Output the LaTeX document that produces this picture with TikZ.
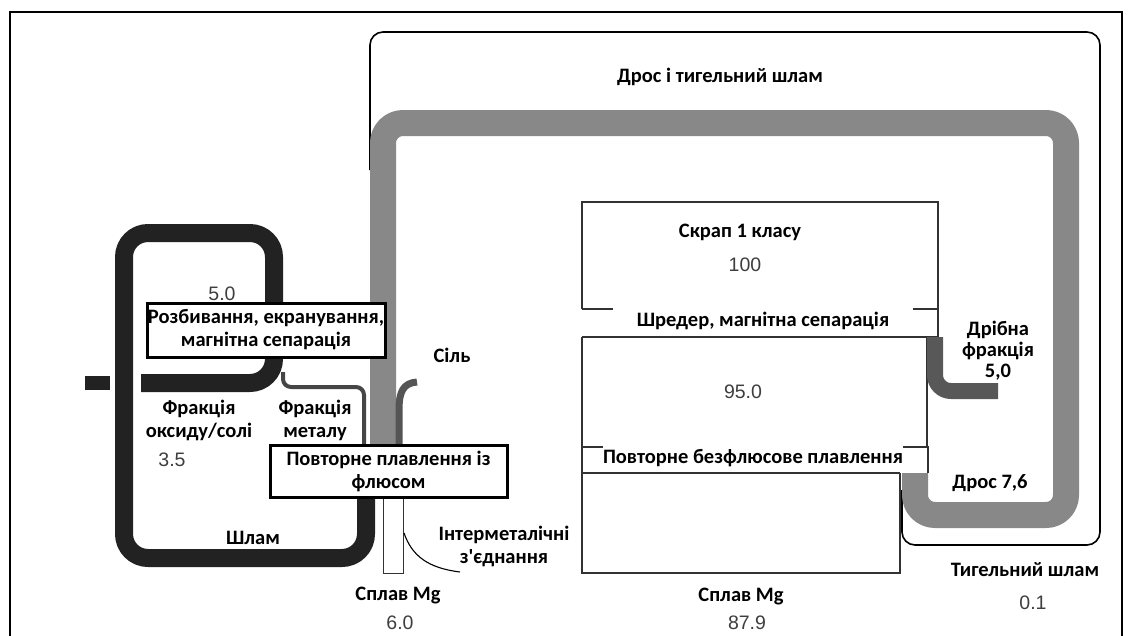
\documentclass[tikz,border=0pt]{standalone}
\usepackage{fontspec}
\newfontfamily\lblfont{Carlito}
\newfontfamily\numfont{Liberation Sans}
\definecolor{numgray}{RGB}{62,62,62}
\definecolor{drossgray}{RGB}{136,136,136}
\definecolor{sludge}{RGB}{34,34,34}
\definecolor{finegray}{RGB}{88,88,88}
\definecolor{metalline}{RGB}{70,70,70}
\definecolor{saltline}{RGB}{85,85,85}
\definecolor{boxline}{RGB}{50,50,50}
\begin{document}
\begin{tikzpicture}[x=1pt,y=-1pt,
  lbl/.style={font=\lblfont\bfseries\fontsize{20.5}{23}\selectfont, align=center, inner sep=1pt, text=black},
  num/.style={font=\numfont\fontsize{19.5}{21}\selectfont, text=numgray, inner sep=1pt},
  procbox/.style={draw=black, line width=3pt, fill=white, lbl, inner sep=0pt},
  bandtext/.style={lbl, fill=white, inner sep=0pt, minimum width=300pt},
  pipe/.style={line cap=butt, line join=round}]
\useasboundingbox (0,0) rectangle (1132,635);
\fill[white] (0,0) rectangle (1132,635);

% outer frame
\draw[line width=1.5pt] (10,640) -- (10,12) -- (1122,12) -- (1122,640);

% envelope of the dross and crucible sludge stream
\draw[line width=1.6pt, rounded corners=13pt] (370,170) -- (370,32) -- (1100,32) -- (1100,545) -- (902,545) -- (902,490);

% scrap processing column
\draw[boxline, line width=1.3pt] (582,309) -- (582,202) -- (938,202) -- (938,337);
\draw[boxline, line width=1.3pt] (582,309) -- (938,309);
\draw[boxline, line width=1.3pt] (582,337) -- (938,337);
\draw[boxline, line width=1.3pt] (582,337) -- (582,447);
\draw[boxline, line width=1.3pt] (927,337) -- (927,447);
\draw[boxline, line width=1.3pt] (582,447) -- (928,447) -- (928,473);
\draw[boxline, line width=1.3pt] (582,447) -- (582,573) -- (900,573) -- (900,473);
\draw[boxline, line width=1.3pt] (582,473) -- (900,473);

% fine fraction
\draw[pipe, finegray, line width=16pt, rounded corners=16pt] (935,337) -- (935,391) -- (998,391);

% dross stream
\draw[pipe, drossgray, line width=26pt, rounded corners=20pt] (915,473) -- (915,515) -- (1066,515) -- (1066,123) -- (383,123) -- (383,446);

% salt input
\draw[pipe, saltline, line width=7pt] (417,382) .. controls (403,383) and (399,392) .. (399,410) -- (399,446);

% sludge loop of the flux route
\draw[pipe, sludge, line width=18pt, rounded corners=24pt] (366,495) -- (366,558) -- (124,558) -- (124,233) -- (274,233) -- (274,383) -- (141,383);
\draw[pipe, sludge, line width=14pt] (85,383) -- (110,383);

% metal fraction
\draw[pipe, metalline, line width=4pt, rounded corners=8pt] (283,372) -- (283,387) -- (364,387) -- (364,446);

% alloy from flux remelting
\draw[boxline, line width=1pt, fill=white] (383,497) rectangle (403,573);

% intermetallics
\draw[line width=1.1pt] (404,533) .. controls (412,556) and (428,568) .. (460,572);

% process boxes
\node[procbox, minimum width=238pt, minimum height=54pt] (crush) at (266,330) {Розбивання, екранування,\\магнітна сепарація};
\node[procbox, minimum width=237pt, minimum height=52pt] (fluxmelt) at (388.5,471) {Повторне плавлення із\\флюсом};
\node[bandtext, minimum height=28pt] (shred) at (763,321) {Шредер, магнітна сепарація};
\node[bandtext, minimum height=26pt] (nofluxmelt) at (753,458) {Повторне безфлюсове плавлення};

% labels
\node[lbl] (title) at (720,77) {Дрос і тигельний шлам};
\node[lbl] (scrap) at (740,232) {Скрап 1 класу};
\node[num] (v100) at (745,265) {100};
\node[num] (v95) at (743,392) {95.0};
\node[lbl] (alloyR) at (741,597) {Сплав Mg};
\node[num] (v879) at (747,623) {87.9};
\node[lbl, font=\lblfont\bfseries\fontsize{20.5}{21}\selectfont] (fine) at (998,351) {Дрібна\\фракція\\5,0};
\node[lbl] (dross) at (990,483) {Дрос 7,6};
\node[lbl] (crucible) at (1025,570) {Тигельний шлам};
\node[num] (v01) at (1033,603) {0.1};
\node[num] (v50) at (222,294) {5.0};
\node[lbl, fill=white] (oxide) at (199,420) {Фракція\\оксиду/солі};
\node[num] (v35) at (172,460) {3.5};
\node[lbl, fill=white] (metal) at (315,420) {Фракція\\металу};
\node[lbl] (sludgelbl) at (253,538) {Шлам};
\node[lbl] (salt) at (452,355) {Сіль};
\node[lbl] (intermet) at (504,546) {Інтерметалічні\\з'єднання};
\node[lbl] (alloyL) at (398,596) {Сплав Mg};
\node[num] (v60) at (400,623) {6.0};
\end{tikzpicture}
\end{document}
